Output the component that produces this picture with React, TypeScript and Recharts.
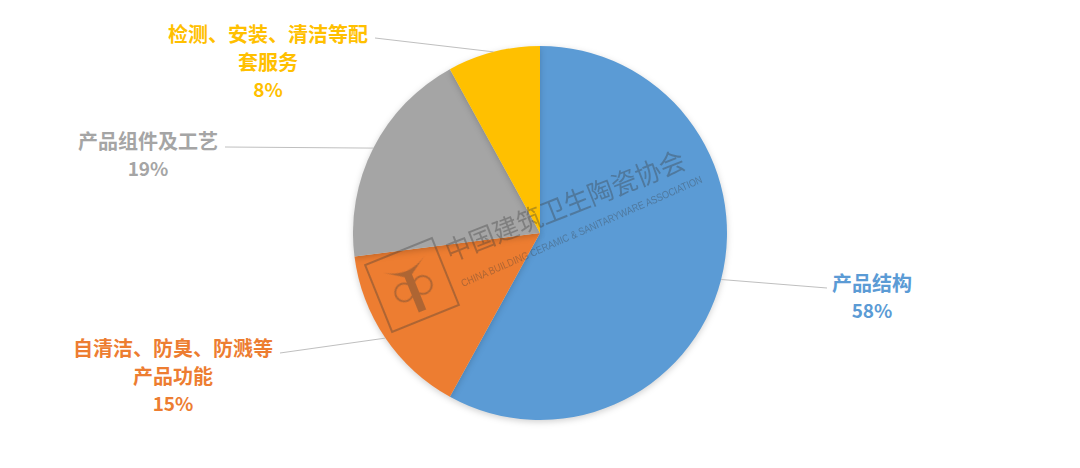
import { PieChart, Pie, Cell } from 'recharts';

const categories = ['产品结构', '自清洁、防臭、防溅等\n产品功能', '产品组件及工艺', '检测、安装、清洁等配\n套服务'];
const shares = [58, 15, 19, 8];
const colors = ['#5B9BD5', '#ED7D31', '#A5A5A5', '#FFC000'];

// where each leader line ends and where its text block sits, relative to the pie centre
const labelLayout = [
  { endX: 287, endY: 55, textX: 332, textY: 49 },
  { endX: -260, endY: 120, textX: -367, textY: 114 },
  { endX: -315, endY: -86, textX: -392, textY: -93 },
  { endX: -165, endY: -195, textX: -272, textY: -200 },
];

const data = categories.map((name, i) => ({ name, value: shares[i] }));

const RAD = Math.PI / 180;
const FONT = '"Noto Sans CJK SC", "Noto Sans", sans-serif';

function renderLabel(props: any) {
  const { cx, cy, midAngle, outerRadius, index } = props;
  const lay = labelLayout[index];
  const sx = cx + outerRadius * Math.cos(-midAngle * RAD);
  const sy = cy + outerRadius * Math.sin(-midAngle * RAD);
  const lines = categories[index].split('\n');
  const color = colors[index];
  return (
    <g key={`lbl-${index}`}>
      <polyline points={`${sx},${sy} ${cx + lay.endX},${cy + lay.endY}`} stroke="#BFBFBF" strokeWidth={1} fill="none" />
      {lines.map((ln, j) => (
        <text key={j} x={cx + lay.textX} y={cy + lay.textY + j * 28} fill={color} fontSize={20} fontWeight={700}
          fontFamily={FONT} textAnchor="middle" dominantBaseline="central">{ln}</text>
      ))}
      <text x={cx + lay.textX} y={cy + lay.textY + lines.length * 27.5} fill={color} fontSize={19} fontWeight={700}
        fontFamily={FONT} textAnchor="middle" dominantBaseline="central">{shares[index]}%</text>
    </g>
  );
}

function Watermark() {
  return (
    <svg width={1080} height={468} style={{ position: 'absolute', left: 0, top: 0, pointerEvents: 'none' }}>
      <g opacity={0.35} fill="#3a3a3a" stroke="#3a3a3a">
        <g transform="translate(412,285) rotate(-22)">
          <rect x={-36} y={-36} width={72} height={72} fill="none" strokeWidth={2} />
          <circle cx={-10} cy={4} r={9} fill="none" strokeWidth={2} />
          <circle cx={10} cy={4} r={9} fill="none" strokeWidth={2} />
          <path d="M-22,-22 Q0,-8 22,-22 L4,-10 L4,28 L-4,28 L-4,-10 Z" stroke="none" />
        </g>
        <text x={450} y={262} transform="rotate(-21.6 450 262)" fontSize={27} stroke="none"
          fontFamily={FONT} textLength={255} lengthAdjust="spacingAndGlyphs">中国建筑卫生陶瓷协会</text>
        <text x={463} y={287} transform="rotate(-23.6 463 287)" fontSize={10.5} stroke="none"
          fontFamily="Arial, sans-serif" textLength={262} lengthAdjust="spacingAndGlyphs">CHINA BUILDING CERAMIC &amp; SANITARYWARE ASSOCIATION</text>
      </g>
    </svg>
  );
}

export default function App() {
  return (
    <div style={{ position: 'fixed', left: 0, top: 0, width: 1080, height: 468, background: '#fff' }}>
      <PieChart width={1080} height={468} margin={{ top: 0, right: 0, bottom: 0, left: 0 }}>
        <Pie data={data} dataKey="value" nameKey="name" cx={540} cy={233} outerRadius={187}
          startAngle={90} endAngle={-270} stroke="none" label={renderLabel} labelLine={false}
          isAnimationActive={false}>
          {data.map((d, i) => (
            <Cell key={d.name} fill={colors[i]} style={{ filter: 'drop-shadow(0px 2px 3px rgba(0,0,0,0.18))' }} />
          ))}
        </Pie>
      </PieChart>
      <Watermark />
    </div>
  );
}
